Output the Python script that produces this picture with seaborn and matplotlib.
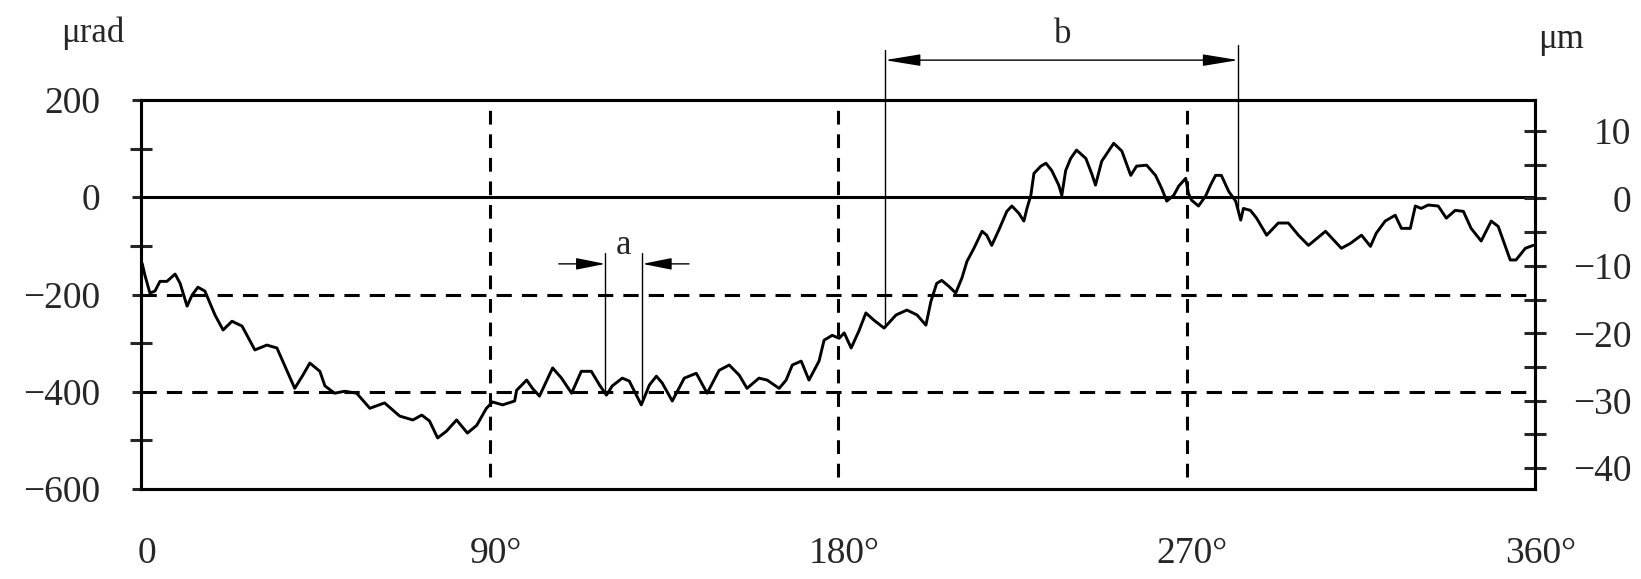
import numpy as np
import pandas as pd
import matplotlib
matplotlib.use("Agg")
import matplotlib.pyplot as plt
from matplotlib.patches import ArrowStyle
from matplotlib.transforms import ScaledTranslation
import seaborn as sns

# Angular position around one revolution (degrees) and measured tilt (µrad)
angle_deg = [
    0.3, 1.0, 2.3, 3.6, 4.9, 6.7, 8.8, 10.1, 11.9, 13.2, 14.7, 16.5, 19.1, 21.2,
    23.5, 26.1, 29.4, 32.5, 35.1, 39.7, 41.8, 43.6, 46.2, 47.5, 50.0, 52.6, 55.7,
    59.1, 62.9, 66.8, 70.2, 72.5, 74.5, 76.6, 78.9, 81.5, 84.3, 86.7, 89.2, 90.8,
    93.4, 96.5, 97.0, 99.6, 101.1, 102.9, 106.3, 108.6, 111.2, 113.7, 116.3, 118.4,
    120.2, 121.7, 124.3, 126.1, 129.2, 131.3, 133.1, 134.6, 137.2, 140.3, 143.4,
    146.2, 149.3, 151.9, 154.5, 156.5, 159.6, 161.7, 164.8, 166.6, 168.2, 170.5,
    172.5, 175.1, 176.4, 178.5, 180.3, 181.6, 183.4, 185.4, 187.2, 189.3, 191.9,
    195.0, 197.8, 200.4, 202.7, 204.0, 205.5, 206.8, 208.6, 210.4, 212.0, 213.3,
    215.1, 217.2, 218.4, 219.7, 221.5, 223.6, 224.9, 226.7, 228.0, 228.8, 229.8,
    230.6, 232.4, 233.7, 235.2, 237.0, 237.8, 238.8, 240.1, 241.6, 244.0, 245.5,
    246.5, 248.1, 251.2, 253.3, 255.6, 257.1, 259.7, 262.0, 263.6, 264.9, 266.7,
    268.0, 269.8, 270.5, 271.3, 273.1, 274.9, 276.2, 277.5, 279.0, 280.9, 282.7,
    284.0, 284.7, 286.5, 288.1, 290.7, 293.7, 296.3, 298.9, 301.5, 305.9, 310.0,
    312.3, 315.2, 317.5, 319.0, 321.3, 323.9, 325.5, 327.8, 329.1, 330.6, 332.4,
    335.0, 337.1, 339.4, 341.5, 343.5, 346.1, 348.7, 350.5, 353.6, 355.1, 357.5,
    359.5,
]
tilt_urad = [
    -136, -160, -197, -193, -173, -173, -158, -177, -224, -201, -185, -193, -242,
    -273, -255, -265, -314, -304, -310, -393, -366, -341, -358, -388, -403, -399,
    -403, -434, -423, -450, -458, -448, -460, -495, -481, -458, -485, -469, -434,
    -421, -427, -419, -397, -376, -393, -409, -351, -372, -403, -358, -358, -386,
    -407, -388, -372, -378, -427, -386, -368, -382, -419, -372, -362, -403, -356,
    -345, -366, -393, -372, -376, -393, -376, -345, -337, -376, -337, -294, -284,
    -290, -279, -310, -275, -238, -253, -269, -242, -232, -242, -263, -214, -177,
    -171, -183, -197, -166, -132, -105, -70, -78, -99, -68, -29, -18, -33, -49,
    -23, 4, 49, 64, 70, 55, 25, 4, 55, 80, 97, 80, 49, 25, 74, 111, 95, 45, 64,
    66, 45, 18, -8, 4, 23, 39, 8, -6, -18, 2, 25, 45, 45, 12, -8, -47, -23, -27,
    -43, -78, -53, -53, -78, -99, -70, -105, -95, -78, -101, -74, -49, -37, -64,
    -64, -18, -23, -16, -18, -43, -27, -29, -64, -90, -49, -60, -129, -129, -105,
    -99,
]

x_ticks = [0, 90, 180, 270, 360]
x_tick_labels = ["0", "90°", "180°", "270°", "360°"]
left_major = [200, 0, -200, -400, -600]
left_minor = [100, -100, -300, -500]
right_major = [10, 0, -10, -20, -30, -40]
right_minor = [5, -5, -15, -25, -35]
right_limits = (-43.1, 14.6)
dashed_levels = [-200, -400]
dashed_angles = [90, 180, 270]
pitch_a = (119.9, 129.5)
span_b = (192.1, 283.4)


def minus(v):
    return str(v).replace("-", "\u2212")


sns.set_style("white")
plt.rcParams["font.family"] = ["Liberation Serif", "DejaVu Serif"]
plt.rcParams["axes.unicode_minus"] = True

W, H = 1641, 579
fig = plt.figure(figsize=(W / 100, H / 100), dpi=100)
ax = fig.add_axes([141 / W, 1 - 489 / H, (1535 - 141) / W, 389 / H])

frame_lw = 2.2
for s in ax.spines.values():
    s.set_linewidth(frame_lw)
    s.set_color("black")

df = pd.DataFrame({"angle": angle_deg, "tilt": tilt_urad})
sns.lineplot(data=df, x="angle", y="tilt", ax=ax, color="black", lw=2.1,
             estimator=None, sort=False, zorder=5)

ax.set_xlim(0, 360)
ax.set_ylim(-600, 200)
ax.set_xlabel("")
ax.set_ylabel("")

# reference grid: zero line solid, others dashed
ax.axhline(0, color="black", lw=frame_lw, zorder=3)
for lv in dashed_levels:
    ax.axhline(lv, color="black", lw=frame_lw, ls=(0, (5, 3.3)), zorder=3)
ax.vlines(dashed_angles, -575, 200, colors="black", lw=frame_lw,
          linestyles=[(0, (4.5, 3.2))], zorder=3)

# axes ticks
ax.set_xticks(x_ticks, labels=x_tick_labels)
ax.tick_params(axis="x", length=0, pad=34, labelsize=27)
shift = ScaledTranslation(6 / 100, 0, fig.dpi_scale_trans)
for lab in ax.get_xticklabels():
    lab.set_transform(lab.get_transform() + shift)
ax.set_yticks(left_major, labels=[minus(v) for v in left_major])
ax.set_yticks(left_minor, minor=True)
ax.tick_params(axis="y", which="major", direction="out", length=6.5,
               width=frame_lw, labelsize=27, pad=23)
ax.tick_params(axis="y", which="minor", direction="inout", length=16.5,
               width=frame_lw)

ax2 = ax.twinx()
ax2.set_ylim(*right_limits)
ax2.set_yticks(right_major, labels=[minus(v) for v in right_major], ha="right")
ax2.set_yticks(right_minor, minor=True)
ax2.tick_params(axis="y", which="both", direction="inout", length=16.5,
                width=frame_lw, labelsize=27, pad=61)
for s in ax2.spines.values():
    s.set_linewidth(frame_lw)
    s.set_color("black")

# unit labels
fig.text(93 / W, 1 - 33 / H, "μrad", ha="center", va="center", fontsize=25)
fig.text(1561 / W, 1 - 40 / H, "μm", ha="center", va="center", fontsize=25)

thin = 1.0
# pitch "a"
a_ends = np.interp(pitch_a, angle_deg, tilt_urad)
for xa, ya in zip(pitch_a, a_ends):
    ax.plot([xa, xa], [-115, ya], color="black", lw=thin, zorder=6)
head_a = ArrowStyle("-|>", head_length=1.8, head_width=0.36)
ax.annotate("", xy=(pitch_a[0], -137), xytext=(pitch_a[0] - 12, -137),
            arrowprops=dict(arrowstyle=head_a, color="black", lw=thin,
                            mutation_scale=10, shrinkA=0, shrinkB=0))
ax.annotate("", xy=(pitch_a[1], -137), xytext=(pitch_a[1] + 12, -137),
            arrowprops=dict(arrowstyle=head_a, color="black", lw=thin,
                            mutation_scale=10, shrinkA=0, shrinkB=0))
ax.text(sum(pitch_a) / 2, -100, "a", ha="center", va="center", fontsize=25)

# span "b"
b_ends = np.interp(span_b, angle_deg, tilt_urad)
for xb, ytop, yb in zip(span_b, (303, 313), b_ends):
    ax.plot([xb, xb], [ytop, yb], color="black", lw=thin, zorder=6,
            clip_on=False)
head_b = ArrowStyle("<|-|>", head_length=2.2, head_width=0.36)
ax.annotate("", xy=(span_b[1], 282), xytext=(span_b[0], 282),
            annotation_clip=False,
            arrowprops=dict(arrowstyle=head_b, color="black", lw=thin,
                            mutation_scale=10, shrinkA=0, shrinkB=0))
ax.text(238, 334, "b", ha="center", va="center", fontsize=25, clip_on=False)

fig.savefig("out.png", dpi=100, facecolor="white")
